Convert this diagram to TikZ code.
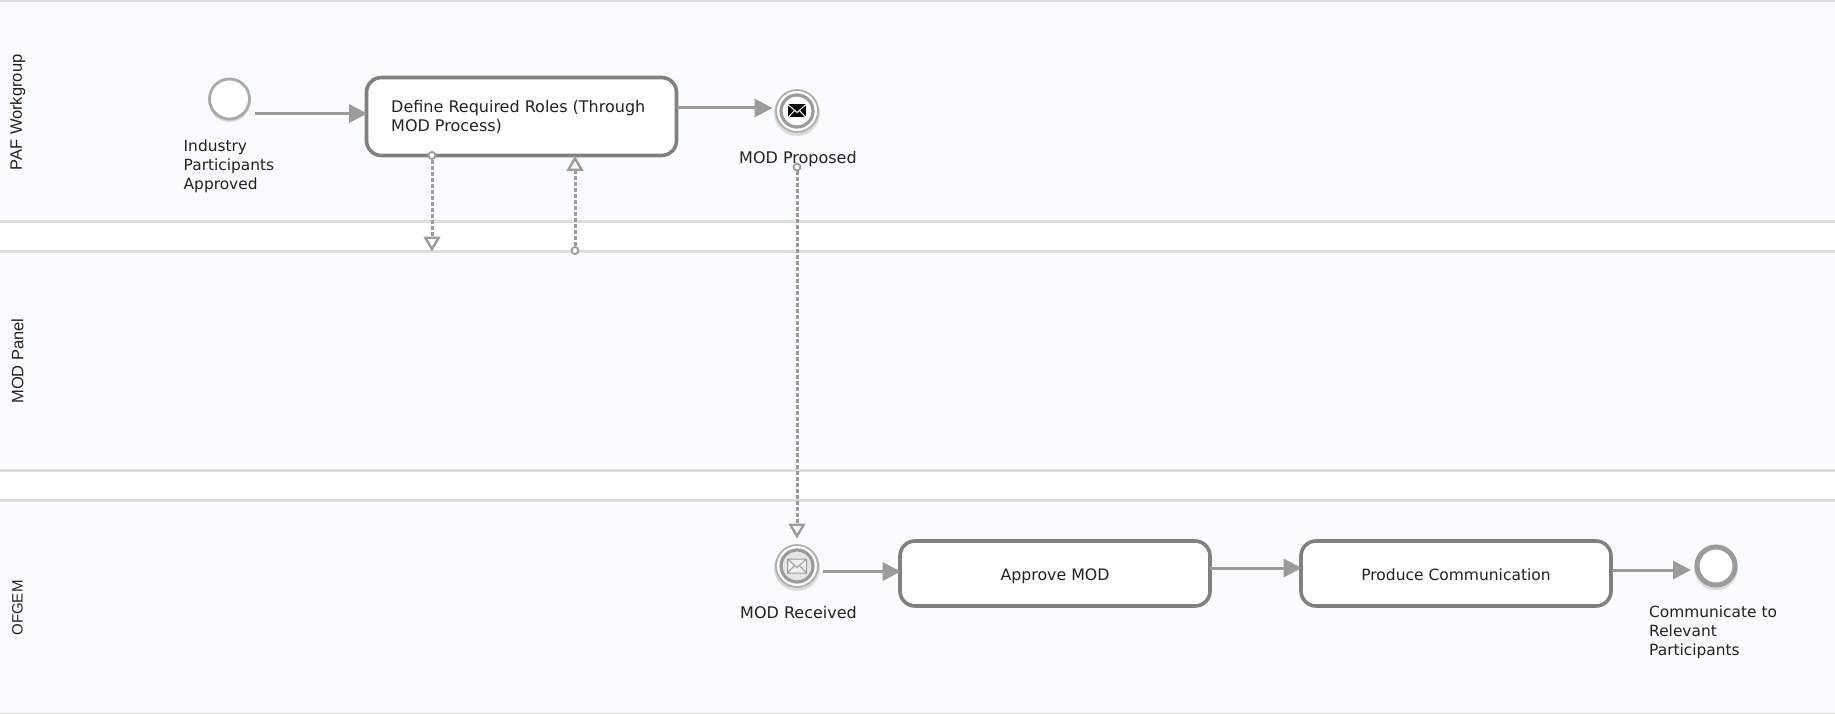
\documentclass[tikz,border=0pt]{standalone}
\usepackage{fontspec}
\setmainfont{DejaVu Sans}
\newfontfamily\lanefont{Liberation Sans}
\usetikzlibrary{arrows.meta}
\definecolor{bandfill}{HTML}{FAFBFD}
\definecolor{bandline}{HTML}{DCDFDE}
\definecolor{taskline}{HTML}{808080}
\definecolor{flowline}{HTML}{9B9B9B}
\definecolor{txt}{HTML}{222222}
\tikzset{
  x=1pt,y=-1pt,
  band/.style={fill=bandfill,draw=none},
  bandedge/.style={draw=bandline,line width=2.4pt},
  taskbox/.style={draw=taskline,fill=white,line width=3.6pt,rounded corners=15pt,inner sep=0pt,minimum height=#1,text=txt,text height=16pt,text depth=3pt,font=\fontsize{15.8}{19}\selectfont},
  lbl/.style={inner sep=0pt,text=txt,align=left,font=\fontsize{16}{18.8}\selectfont},
  lblsmall/.style={lbl,font=\fontsize{15.4}{18.8}\selectfont},
  lane/.style={rotate=90,inner sep=0pt,text=txt,font=\lanefont\fontsize{16.5}{19}\selectfont},
  flow/.style={draw=flowline,line width=3pt,-{Triangle[length=18pt,width=18pt]}},
  assoc/.style={draw=flowline,line width=3pt,dash pattern=on 4pt off 2pt,-{Triangle[open,length=15pt,width=17pt,fill=bandfill,line width=2.4pt]}},
  dot/.style={circle,draw=flowline,fill=white,line width=1.8pt,inner sep=0pt,minimum size=7pt},
  shadowdisc/.style={fill=black,opacity=0.13},
  startev/.style={circle,draw=flowline!85,fill=white,line width=2.8pt,inner sep=0pt,minimum size=40pt},
  endev/.style={circle,draw=flowline,fill=white,line width=5pt,inner sep=0pt,minimum size=38pt},
  msgev/.style={circle,draw=flowline!80,fill=white,line width=1.8pt,inner sep=0pt,minimum size=42pt},
  ring/.style={draw=flowline,line width=3.2pt},
}
\begin{document}
\begin{tikzpicture}
\useasboundingbox (0,0) rectangle (1835,714);
\fill[white] (0,0) rectangle (1835,714);
\fill[band] (0,0) rectangle (1835,221);
\fill[band] (0,251) rectangle (1835,470.5);
\fill[band] (0,500.5) rectangle (1835,714);
\draw[bandedge] (0,1) -- (1835,1);
\draw[bandedge] (0,221.5) -- (1835,221.5);
\draw[bandedge] (0,251.5) -- (1835,251.5);
\draw[bandedge] (0,470.5) -- (1835,470.5);
\draw[bandedge] (0,500.5) -- (1835,500.5);
\draw[bandedge,line width=1.2pt] (0,713.5) -- (1835,713.5);

\node[lane] (laneA) at (17.5,112.5) {PAF Workgroup};
\node[lane] (laneB) at (17.5,361) {MOD Panel};
\node[lane,font=\lanefont\fontsize{15}{19}\selectfont] (laneC) at (17.5,608) {OFGEM};

\fill[shadowdisc] (229.5,101) circle (21);
\fill[shadowdisc] (797,113) circle (23);
\fill[shadowdisc] (797,568) circle (23);
\fill[shadowdisc] (1716,568) circle (22);

\node[lbl,anchor=north west] (propLabel) at (739,151.5) {MOD Proposed};
\node[lbl,anchor=north west] (recvLabel) at (740,606.5) {MOD Received};
\node[lblsmall,anchor=north west] (startLabel) at (183.5,140) {Industry\\Participants\\Approved};
\node[lblsmall,anchor=north west] (finLabel) at (1649,606) {Communicate to\\Relevant\\Participants};

\node[startev] (start) at (229.5,99) {};
\node[taskbox=78pt,minimum width=310pt] (define) at (521.5,116.5) {};
\node[lbl,anchor=north west] (defineText) at (391,100.5) {Define Required Roles (Through\\MOD Process)};
\node[msgev] (proposed) at (797,111) {};
\node[taskbox=65pt,minimum width=310pt] (approve) at (1055,573.5) {Approve MOD};
\node[taskbox=65pt,minimum width=310pt,font=\fontsize{15.5}{19}\selectfont] (produce) at (1456,573.5) {Produce Communication};
\node[msgev] (received) at (797,566) {};
\node[endev] (finish) at (1716,566) {};

% message event icons
\draw[ring] (proposed) circle (16);
\begin{scope}[shift={(proposed.center)}]
  \fill[black] (-9,-6.5) rectangle (9,6.5);
  \draw[white,line width=1pt] (-9,-6.5) -- (0,1.5) -- (9,-6.5) (-9,6.5) -- (-2.5,-0.5) (9,6.5) -- (2.5,-0.5);
\end{scope}
\draw[ring,fill=black!10] (received) circle (16);
\begin{scope}[shift={(received.center)}]
  \fill[white!94!black] (-9.5,-7) rectangle (9.5,7);
  \draw[flowline,line width=1pt] (-9.5,-7) rectangle (9.5,7) (-9.5,-7) -- (0,1.5) -- (9.5,-7) (-9.5,7) -- (-2.5,-0.5) (9.5,7) -- (2.5,-0.5);
\end{scope}

% free ends of the flows
\coordinate (s1) at (255,113.5);
\coordinate (s2) at (676.5,108);
\coordinate (s3) at (823,571.5);
\coordinate (s4) at (1210,568);
\coordinate (s5) at (1612,570);
\coordinate (e2) at (772.5,108);
\coordinate (e5) at (1691,570);

\draw[flow,shorten >=-2.5pt] (s1) -- (s1 -| define.west);
\draw[flow] (s2) -- (e2);
\draw[flow,shorten >=-2.5pt] (s3) -- (s3 -| approve.west);
\draw[flow,shorten >=-2.5pt] (s4) -- (s4 -| produce.west);
\draw[flow] (s5) -- (e5);

% associations
\coordinate (t1) at (432,251.5);
\coordinate (t2) at (575,156);
\coordinate (t3) at (797,538.5);
\node[dot] (d1) at (432,155.5) {};
\node[dot] (d2) at (575,250.5) {};
\node[dot] (d3) at (797,167) {};
\draw[assoc] (d1) -- (t1);
\draw[assoc] (d2) -- (t2);
\draw[assoc] (d3) -- (t3);
\end{tikzpicture}
\end{document}
